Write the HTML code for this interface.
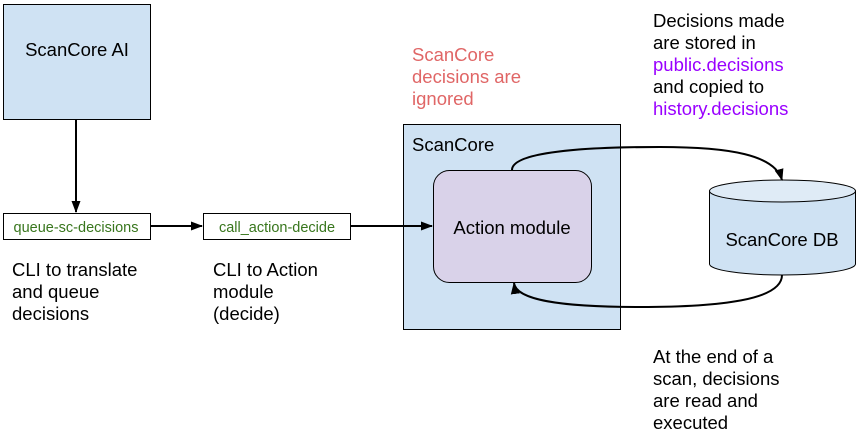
<!DOCTYPE html>
<html><head><style>body{margin:0;background:#fff}svg{display:block}text{font-family:"Liberation Sans",Arial,sans-serif}</style></head>
<body>
<svg width="859" height="434" viewBox="0 0 859 434" xmlns="http://www.w3.org/2000/svg">
<defs><marker id="a" markerWidth="12" markerHeight="12" refX="11" refY="6" orient="auto" markerUnits="userSpaceOnUse"><path d="M0,1.5 L12,6 L0,10.5 z" fill="#000"/></marker></defs>
<rect x="3.5" y="4.5" width="147" height="115" fill="#cfe2f3" stroke="#000"/>
<text x="77" y="56" font-size="18.5" text-anchor="middle">ScanCore AI</text>
<line x1="76" y1="120" x2="76" y2="212" stroke="#000" stroke-width="2" marker-end="url(#a)"/>
<rect x="3.5" y="213.5" width="147" height="26" fill="#fff" stroke="#000"/>
<text x="76" y="232" font-size="14.5" fill="#38761d" text-anchor="middle">queue-sc-decisions</text>
<line x1="151" y1="226" x2="202" y2="226" stroke="#000" stroke-width="2" marker-end="url(#a)"/>
<rect x="203.5" y="213.5" width="147" height="26" fill="#fff" stroke="#000"/>
<text x="277" y="232" font-size="14.5" fill="#38761d" text-anchor="middle">call_action-decide</text>
<rect x="403.5" y="124.5" width="217" height="205" fill="#cfe2f3" stroke="#000"/>
<text x="412" y="151" font-size="18.5">ScanCore</text>
<line x1="351" y1="226" x2="432" y2="226" stroke="#000" stroke-width="2" marker-end="url(#a)"/>
<rect x="433.5" y="170.5" width="158" height="112" rx="16" fill="#d9d2e9" stroke="#000"/>
<text x="512" y="234" font-size="18.5" text-anchor="middle">Action module</text>
<path d="M709.5,191 V264 A73,11 0 0 0 855.5,264 V191" fill="#cfe2f3" stroke="#000"/>
<ellipse cx="782.5" cy="191" rx="73" ry="11" fill="#dfebf6" stroke="#000"/>
<text x="782" y="246" font-size="18.5" text-anchor="middle">ScanCore DB</text>
<path d="M512,170 C512,150 600,147 660,147 C730,147 775,155 782,180" fill="none" stroke="#000" stroke-width="2" marker-end="url(#a)"/>
<path d="M782,275 C782,300 720,307 640,307 C560,307 516,300 514,283" fill="none" stroke="#000" stroke-width="2" marker-end="url(#a)"/>
<g font-size="18.5">
<text x="12" y="276">CLI to translate</text><text x="12" y="298">and queue</text><text x="12" y="320">decisions</text>
<text x="213" y="276">CLI to Action</text><text x="213" y="298">module</text><text x="213" y="320">(decide)</text>
<g fill="#e06666"><text x="412" y="61">ScanCore</text><text x="412" y="83">decisions are</text><text x="412" y="105">ignored</text></g>
<text x="653" y="27">Decisions made</text><text x="653" y="49">are stored in</text>
<text x="653" y="71" fill="#9900ff">public.decisions</text>
<text x="653" y="93">and copied to</text>
<text x="653" y="115" fill="#9900ff">history.decisions</text>
<text x="653" y="363">At the end of a</text><text x="653" y="385">scan, decisions</text><text x="653" y="407">are read and</text><text x="653" y="429">executed</text>
</g>
</svg>
</body></html>
